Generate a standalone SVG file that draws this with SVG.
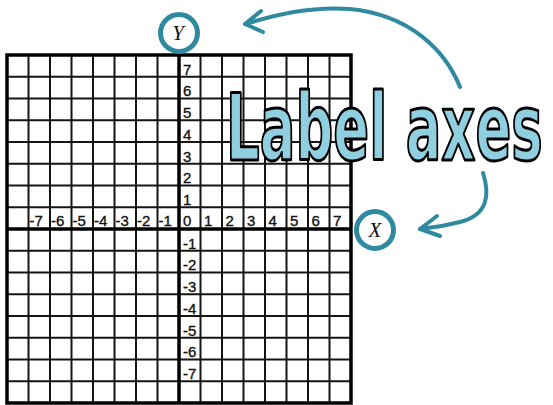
<svg xmlns="http://www.w3.org/2000/svg" width="553" height="405" viewBox="0 0 553 405">
<style>
.grid{fill:none;stroke:#151515;stroke-width:2}
.axis{fill:none;stroke:#000;stroke-width:3.5}
.num{font-family:"Liberation Sans",Arial,sans-serif;font-size:15px;fill:#111;stroke:#111;stroke-width:0.35}
.ring{fill:#fff;stroke:#2f8aa0;stroke-width:5}
.var{font-family:"Liberation Serif","Times New Roman",serif;font-style:italic;font-size:21px;fill:#111;text-anchor:middle}
.conn{fill:none;stroke:#2f8aa0;stroke-width:4;stroke-linecap:round;stroke-linejoin:round}
.title{font-family:"DejaVu Sans",sans-serif;font-weight:bold;font-size:92px;fill:#8fcfdf;stroke:#000;stroke-width:3;stroke-linejoin:round}
</style>
<rect width="553" height="405" fill="#fff"/>
<g id="grid">
<path class="grid" d="M28.5,55V403M50,55V403M71.5,55V403M93,55V403M114.5,55V403M136,55V403M157.5,55V403M200.5,55V403M222,55V403M243.5,55V403M265,55V403M286.5,55V403M308,55V403M329.5,55V403
M7,76.75H351M7,98.5H351M7,120.25H351M7,142H351M7,163.75H351M7,185.5H351M7,207.25H351M7,250.75H351M7,272.5H351M7,294.25H351M7,316H351M7,337.75H351M7,359.5H351M7,381.25H351"/>
<rect class="axis" x="7" y="55" width="344" height="348"/>
<path class="axis" d="M179,55V403M7,229H351"/>
</g>
<g id="y-numbers" class="num">
<text x="183" y="74.5">7</text>
<text x="183" y="96.25">6</text>
<text x="183" y="118">5</text>
<text x="183" y="139.75">4</text>
<text x="183" y="161.5">3</text>
<text x="183" y="183.25">2</text>
<text x="183" y="205">1</text>
<text x="183" y="248.5">-1</text>
<text x="183" y="270.25">-2</text>
<text x="183" y="292">-3</text>
<text x="183" y="313.75">-4</text>
<text x="183" y="335.5">-5</text>
<text x="183" y="357.25">-6</text>
<text x="183" y="379">-7</text>
</g>
<g id="x-numbers" class="num">
<text x="29.5" y="226">-7</text>
<text x="51" y="226">-6</text>
<text x="72.5" y="226">-5</text>
<text x="94" y="226">-4</text>
<text x="115.5" y="226">-3</text>
<text x="137" y="226">-2</text>
<text x="158.5" y="226">-1</text>
<text x="183" y="226">0</text>
<text x="204" y="226">1</text>
<text x="225.5" y="226">2</text>
<text x="247" y="226">3</text>
<text x="268.5" y="226">4</text>
<text x="290" y="226">5</text>
<text x="311.5" y="226">6</text>
<text x="333" y="226">7</text>
</g>
<g id="title">
<text class="title" transform="translate(226,160) scale(0.575,1)" x="0" y="0">Label axes</text>
</g>
<g id="connectors">
<path class="conn" d="M460,87C445,50 410,15 350,9C310,6 275,15 245,24"/>
<path class="conn" d="M261,11L245,24L263,32"/>
<path class="conn" d="M483,173C490,195 488,215 460,222C445,226 432,228 420,229"/>
<path class="conn" d="M437,216L420,229L440,236"/>
</g>
<g id="y-label">
<circle class="ring" cx="179" cy="33" r="18.5"/>
<text class="var" x="178" y="40">Y</text>
</g>
<g id="x-label">
<circle class="ring" cx="375" cy="230" r="18.5"/>
<text class="var" x="375" y="237">X</text>
</g>
</svg>
